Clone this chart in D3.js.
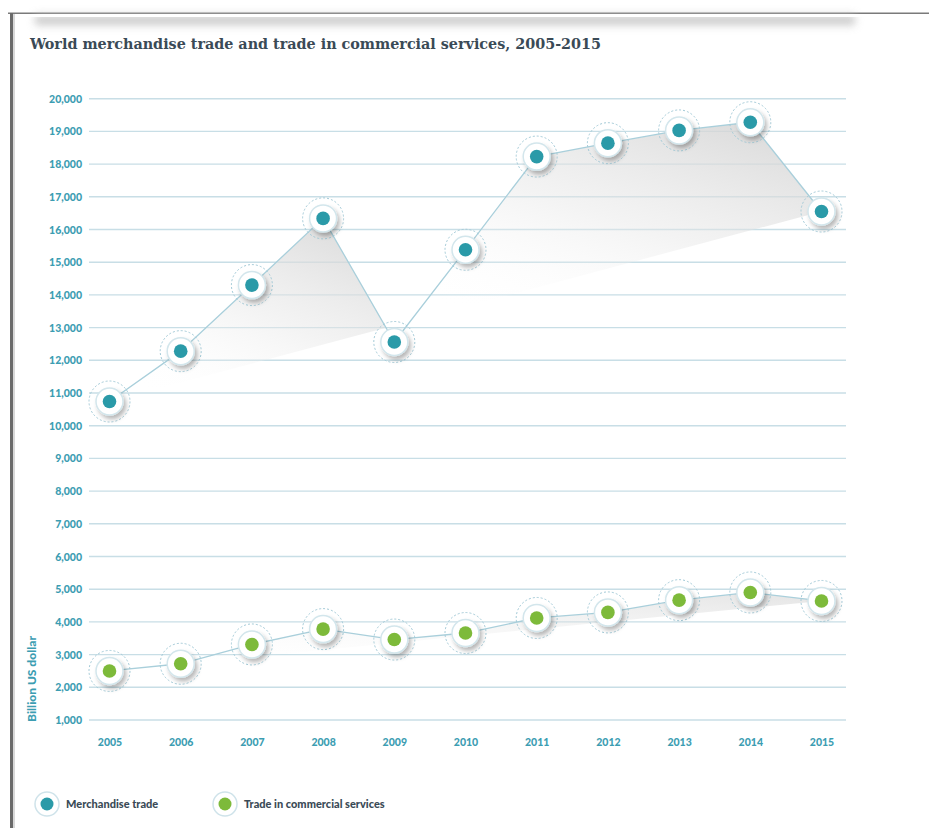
<!DOCTYPE html>
<html>
<head>
<meta charset="utf-8">
<script src="https://cdn.jsdelivr.net/npm/d3@7"></script>
<style>
  html, body { margin: 0; padding: 0; background: #fff; }
  svg { display: block; }
</style>
</head>
<body>
<svg id="chart" width="929" height="828"></svg>
<script>
// ---- data ----
const years = ["2005","2006","2007","2008","2009","2010","2011","2012","2013","2014","2015"];
const merchandise = [10740, 12280, 14300, 16340, 12560, 15380, 18230, 18640, 19030, 19280, 16550];
const services = [2500, 2720, 3310, 3780, 3460, 3660, 4120, 4290, 4665, 4900, 4640];
const yTicks = d3.range(1000, 20001, 1000);
const seriesNames = ["Merchandise trade", "Trade in commercial services"];
const seriesColors = ["#2a9aa8", "#7dba3a"];
const title = "World merchandise trade and trade in commercial services, 2005-2015";
const yTitle = "Billion US dollar";

const svg = d3.select("#chart");
const defs = svg.append("defs");

const teal = "#3c9db2";
const dark = "#3a4a56";

// filters
const ds = defs.append("filter").attr("id", "shadow").attr("x", "-50%").attr("y", "-50%").attr("width", "200%").attr("height", "200%");
ds.append("feDropShadow").attr("dx", 2.5).attr("dy", 3.5).attr("stdDeviation", 2.2)
  .attr("flood-color", "#000").attr("flood-opacity", 0.28);
const blur = defs.append("filter").attr("id", "blur").attr("x", "-20%").attr("y", "-200%").attr("width", "140%").attr("height", "500%");
blur.append("feGaussianBlur").attr("stdDeviation", 4);

function makeGrad(id, op) {
  const g = defs.append("linearGradient").attr("id", id)
    .attr("x1", 0.85).attr("y1", 0).attr("x2", 0.2).attr("y2", 1);
  g.append("stop").attr("offset", 0).attr("stop-color", "#d4d4d4").attr("stop-opacity", op);
  g.append("stop").attr("offset", 0.5).attr("stop-color", "#e6e6e6").attr("stop-opacity", op * 0.55);
  g.append("stop").attr("offset", 1).attr("stop-color", "#ffffff").attr("stop-opacity", 0);
}
makeGrad("shade0", 0.85);
makeGrad("shade1", 0.55);

// frame
svg.append("rect").attr("x", 8).attr("y", 12.5).attr("width", 921).attr("height", 1.5).attr("fill", "#7a7a7a");
svg.append("rect").attr("x", 10).attr("y", 13).attr("width", 3).attr("height", 815).attr("fill", "#6a6a6a");
svg.append("rect").attr("x", 13).attr("y", 14).attr("width", 2).attr("height", 814).attr("fill", "#d8d8d8");
// top shadow band
svg.append("rect").attr("x", 35).attr("y", 15).attr("width", 820).attr("height", 10)
  .attr("fill", "#bdbdbd").attr("opacity", 0.8).attr("filter", "url(#blur)");
svg.append("rect").attr("x", 15).attr("y", 14).attr("width", 914).attr("height", 3).attr("fill", "#fff");

// title
svg.append("text").attr("x", 30).attr("y", 49)
  .attr("font-family", "'DejaVu Serif', serif").attr("font-weight", "bold")
  .style("font-stretch", "condensed")
  .attr("font-size", 15).attr("fill", dark)
  .attr("textLength", 571).attr("lengthAdjust", "spacingAndGlyphs")
  .text(title);

// scales
const x = d3.scalePoint().domain(years).range([109.5, 821.5]);
const y = d3.scaleLinear().domain([1000, 20000]).range([720, 98.7]);

// gridlines + y ticks
const yAxis = d3.axisLeft(y).tickValues(yTicks).tickSize(0).tickPadding(0).tickFormat(d3.format(","));
const yg = svg.append("g").attr("transform", "translate(82,0)").call(yAxis);
yg.select(".domain").remove();
yg.selectAll("text").attr("font-family", "Lato, 'Open Sans', sans-serif").attr("font-weight", 900)
  .attr("font-size", 10.5).attr("fill", teal).attr("dy", "0.34em");
svg.append("g").selectAll("line").data(yTicks).join("line")
  .attr("x1", 89).attr("x2", 846).attr("y1", d => y(d)).attr("y2", d => y(d))
  .attr("stroke", "#c8dee6").attr("stroke-width", 1.4);

// x ticks
const xAxis = d3.axisBottom(x).tickSize(0).tickPadding(0);
const xg = svg.append("g").attr("transform", "translate(0,739)").call(xAxis);
xg.select(".domain").remove();
xg.selectAll("text").attr("font-family", "Lato, 'Open Sans', sans-serif").attr("font-weight", 900)
  .attr("font-size", 10.5).attr("fill", teal);

// y title
svg.append("text").attr("transform", "translate(36,679) rotate(-90)")
  .attr("text-anchor", "middle")
  .attr("font-family", "Lato, 'Open Sans', sans-serif").attr("font-weight", 900)
  .attr("font-size", 10.5).attr("fill", teal)
  .attr("textLength", 86).attr("lengthAdjust", "spacingAndGlyphs")
  .text(yTitle);

const series = [merchandise, services];

// shading: pieces of the region between the line and the first-last chord, where the line is above the chord
function shadePieces(vals) {
  const pts = vals.map((v, i) => [x(years[i]), y(v)]);
  const p0 = pts[0], pn = pts[pts.length - 1];
  const chordY = xx => p0[1] + (pn[1] - p0[1]) * (xx - p0[0]) / (pn[0] - p0[0]);
  const s = pts.map(p => p[1] - chordY(p[0]));
  const pieces = [];
  let cur = [pts[0]], sign = 0;
  for (let i = 1; i < pts.length; i++) {
    const s0 = s[i - 1], s1 = s[i];
    if (s0 * s1 < 0) {
      const t = s0 / (s0 - s1);
      const c = [pts[i - 1][0] + t * (pts[i][0] - pts[i - 1][0]), pts[i - 1][1] + t * (pts[i][1] - pts[i - 1][1])];
      cur.push(c);
      pieces.push({ pts: cur, sign });
      cur = [c]; sign = 0;
    }
    cur.push(pts[i]);
    if (Math.abs(s1) > 1e-6) sign = Math.sign(s1);
  }
  pieces.push({ pts: cur, sign });
  return pieces.filter(p => p.sign < 0 && p.pts.length > 2);
}
series.forEach((vals, si) => {
  shadePieces(vals).forEach(p => {
    svg.append("path").attr("d", "M" + p.pts.map(q => q.join(",")).join("L") + "Z")
      .attr("fill", `url(#shade${si})`).attr("stroke", "none");
  });
});

// lines
const line = d3.line().x((d, i) => x(years[i])).y(d => y(d));
series.forEach(vals => {
  svg.append("path").attr("d", line(vals)).attr("fill", "none")
    .attr("stroke", "#a9cfdb").attr("stroke-width", 1.3);
});

// markers
series.forEach((vals, si) => {
  const g = svg.append("g").selectAll("g").data(vals).join("g")
    .attr("transform", (d, i) => `translate(${x(years[i])},${y(d)})`);
  g.append("circle").attr("r", 20.5).attr("fill", "none")
    .attr("stroke", "#a3cad7").attr("stroke-width", 1).attr("stroke-dasharray", "2,2");
  g.append("circle").attr("r", 13.5).attr("fill", "#fff")
    .attr("stroke", "#d3e6ec").attr("stroke-width", 1.5).attr("filter", "url(#shadow)");
  g.append("circle").attr("r", 6.8).attr("fill", seriesColors[si]);
});

// legend
const legX = [47, 225];
seriesNames.forEach((name, i) => {
  const g = svg.append("g").attr("transform", `translate(${legX[i]},804)`);
  g.append("circle").attr("r", 12).attr("fill", "#fff").attr("stroke", "#cfe3ea").attr("stroke-width", 1.5);
  g.append("circle").attr("r", 6.5).attr("fill", seriesColors[i]);
  g.append("text").attr("x", 19).attr("y", 3.5)
    .attr("font-family", "Lato, 'Open Sans', sans-serif").attr("font-weight", 900)
    .attr("font-size", 11).attr("fill", dark).text(name);
});
</script>
</body>
</html>
